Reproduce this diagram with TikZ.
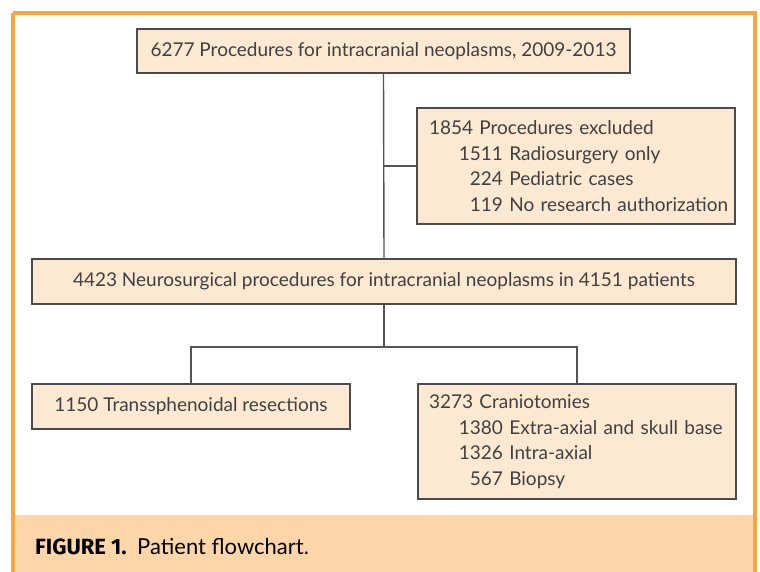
\documentclass[tikz,border=0pt]{standalone}
\usepackage{fontspec}
\setmainfont{Lato}
\newfontfamily\capfont{Fira Sans}
\definecolor{boxfill}{HTML}{FDE8D2}
\definecolor{capband}{HTML}{FCD5A8}
\definecolor{frameor}{HTML}{F9A53E}
\definecolor{boxline}{HTML}{4A4A4A}
\definecolor{txt}{HTML}{404040}
\definecolor{conn}{HTML}{555555}
\newcommand{\subl}[2]{\mbox{\makebox[74pt][r]{#1} #2}}
\begin{document}
\begin{tikzpicture}[x=1pt,y=-1pt,
  fbox/.style={draw=boxline, line width=1.2pt, fill=boxfill, text=txt, inner sep=0pt,
     font=\fontsize{19}{25.5}\selectfont},
  lbox/.style={fbox, align=left, text width=#1},
  link/.style={draw=conn, line width=1.4pt}]
\useasboundingbox (0,0) rectangle (760,571);
\fill[white] (0,0) rectangle (760,571);
\fill[capband] (15,515) rectangle (753,575);
\draw[frameor, line width=4pt] (13,12.5) -- (755,12.5) -- (755,600) (13,12.5) -- (13,600);
\node[fbox, minimum width=493pt, minimum height=44pt] (top) at (383.5,51)
  {6277 Procedures for intracranial neoplasms, 2009-2013};
\node[lbox=294pt, minimum width=318pt, minimum height=116pt] (excl) at (576,166)
  {\mbox{1854 Procedures excluded}\\
   \subl{1511}{Radiosurgery only}\\
   \subl{224}{Pediatric cases}\\
   \subl{119}{No research authorization}};
\node[fbox, minimum width=704pt, minimum height=45pt] (mid) at (384,281.5)
  {4423 Neurosurgical procedures for intracranial neoplasms in 4151 patients};
\node[fbox, minimum width=318pt, minimum height=45pt] (left) at (191,406.5)
  {1150 Transsphenoidal resections};
\node[lbox=296pt, minimum width=318pt, minimum height=115pt] (right) at (577,441.5)
  {\mbox{3273 Craniotomies}\\
   \subl{1380}{Extra-axial and skull base}\\
   \subl{1326}{Intra-axial}\\
   \subl{567}{Biopsy}};
\coordinate (j1) at (top.south |- excl.west);
\coordinate (br) at (384,347);
\path[link] (top.south) -- (mid.north);
\path[link] (j1) -- (excl.west);
\path[link] (mid.south) -- (br);
\path[link] (br) -| (left.north);
\path[link] (br) -| (right.north);
\node[anchor=base west, inner sep=0pt, text=black, font=\fontsize{22}{26}\selectfont] (cap) at (35,554)
  {{\capfont\bfseries FIGURE 1.}\hspace{3pt} Patient flowchart.};
\end{tikzpicture}
\end{document}
